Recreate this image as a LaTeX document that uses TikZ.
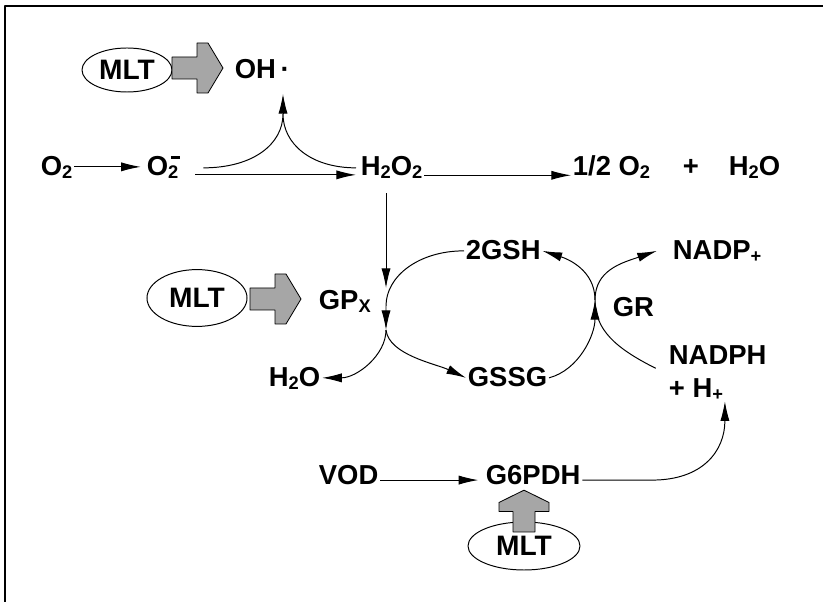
\documentclass[tikz,border=0pt]{standalone}
\usepackage{fontspec}
\setmainfont{Liberation Sans}
\usetikzlibrary{arrows.meta,shapes.geometric}
\newcommand{\dn}[1]{\raisebox{-0.2ex}{\fontsize{13}{12}\selectfont #1}}
\newcommand{\supbar}{\rlap{\hspace{0.1em}\rule[0.62em]{0.32em}{0.1em}}}
\tikzset{
  lbl/.style={font=\fontsize{19.5}{22}\selectfont\bfseries, inner sep=1pt, anchor=base west, text height=14pt, text depth=1pt},
  mlt/.style={ellipse, draw, fill=white, font=\fontsize{20}{22}\selectfont\bfseries, inner sep=0pt},
  fatarrow/.pic={\draw[line width=0.6pt, fill=black!35] (0,-11) -- (25,-11) -- (25,-25) -- (36,-25) -- (51,0) -- (36,25) -- (25,25) -- (25,11) -- (0,11) -- cycle;}
}
\begin{document}
\begin{tikzpicture}[x=0.025cm, y=-0.025cm, line join=round, line width=0.7pt, >={Latex[length=14pt,width=6.5pt]}]
\useasboundingbox (0,0) rectangle (823,602);
\draw[line width=1pt] (5,602) -- (5,6) -- (823,6);
\coordinate (cusp) at (283,114);
\coordinate (ohend) at (283,94);
\coordinate (gpxa) at (386,288);
\coordinate (gpxm) at (386,306);
\coordinate (gpxb) at (386,330);
\coordinate (grx) at (595,300);
% species
\node[lbl] (O2a) at (39,176) {O\dn{2}};
\node[lbl] (O2b) at (145,176) {O\supbar\dn{2}};
\node[lbl] (H2O2) at (359,176) {H\dn{2}O\dn{2}};
\node[lbl] (halfO) at (571,176) {1/2 O\dn{2}};
\node[lbl] (plus) at (681,176) {+};
\node[lbl] (H2Oa) at (727,176) {H\dn{2}O};
\node[lbl] (OH) at (233,79) {OH\,·};
\node[lbl] (GSH) at (464,260) {2GSH};
\node[lbl] (NADP) at (671,260) {NADP\dn{+}};
\node[lbl] (GR) at (611,317) {GR};
\node[lbl] (GPx) at (317,310) {GP\dn{X}};
\node[lbl] (H2Ob) at (267,387) {H\dn{2}O};
\node[lbl] (GSSG) at (466,387) {GSSG};
\node[lbl] (NADPH) at (667,365) {NADPH};
\node[lbl] (Hp) at (667,398) {+ H\dn{+}};
\node[lbl] (VOD) at (317,485) {VOD};
\node[lbl] (G6PDH) at (484,485) {G6PDH};
% melatonin
\node[mlt, minimum width=2.25cm, minimum height=1.1cm] (MLTa) at (127,70) {MLT};
\node[mlt, minimum width=2.5cm, minimum height=1.42cm] (MLTb) at (197,298) {MLT};
\node[mlt, minimum width=2.8cm, minimum height=1.2cm] (MLTc) at (524,546) {MLT};
\pic at (172,68) {fatarrow};
\pic at (250,299) {fatarrow};
\pic[rotate=90, xscale=0.82] at (524,532) {fatarrow};
% reactions
\draw[->, shorten >=3pt] (O2a) -- (O2b);
\draw[->] ([shift={(15,8)}]O2b.east) -- ([shift={(-3,8)}]H2O2.west);
\draw ([shift={(23,1)}]O2b.east) .. controls +(50,0) and +(0,30) .. (cusp) .. controls +(0,30) and +(-45,0) .. ([shift={(-3,1)}]H2O2.west);
\draw[->] (cusp) -- (ohend);
\draw[->] ([yshift=-6pt]H2O2.east) -- ([yshift=-6pt]halfO.west);
\draw[->, shorten <=10pt] (H2O2.south -| gpxa) -- (gpxa);
\draw[->] (GSH.west) .. controls +(-45,0) and +(0,-30) .. (gpxm) -- (gpxb);
\draw[->] (gpxb) .. controls +(0,25) and +(35,0) .. (H2Ob.east);
\draw[->] (gpxb) .. controls +(3,25) and +(-30,-14) .. (GSSG.west);
\draw[->] (GSSG.east) .. controls +(30,-8) and +(0,35) .. (grx);
\draw[->] (grx) .. controls +(0,-30) and +(25,8) .. (GSH.east);
\draw[->] ([xshift=-8pt]NADPH.south west) .. controls +(-40,-20) and +(0,30) .. (grx) .. controls +(0,-30) and +(-35,12) .. ([xshift=-10pt]NADP.west);
\draw[->, shorten >=4pt] ([yshift=-3pt]VOD.east) -- ([yshift=-3pt]G6PDH.west);
\draw[->] ([yshift=-3pt]G6PDH.east) -- +(70,0) .. controls +(50,0) and +(0,50) .. (Hp.south east);
\end{tikzpicture}
\end{document}
